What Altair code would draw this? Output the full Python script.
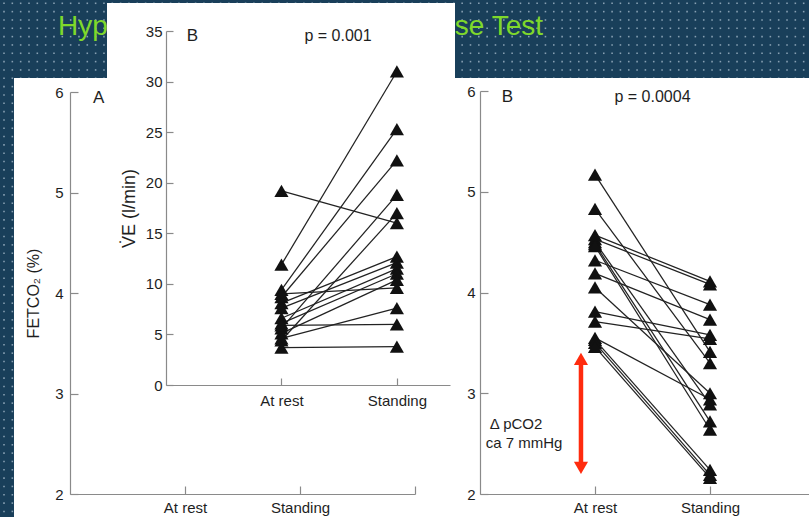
import altair as alt
import numpy as np
import pandas as pd

W, H = 809, 517
FONT = "Liberation Sans"
NAVY = "#193f5a"
GREEN = "#7fd82b"
RED = "#ff2b0e"
AXC = "#8a8a8a"
TXT = "#1e1e1e"

# ---------------- data ----------------
CONDITIONS = ["At rest", "Standing"]
# End-tidal CO2 fraction (%) -- right panel B
FET_REST = [5.17, 4.83, 4.57, 4.53, 4.50, 4.48, 4.46, 4.32, 4.19, 4.05, 3.81, 3.71, 3.55, 3.53, 3.50, 3.46]
FET_STAND = [3.41, 3.30, 4.11, 4.08, 2.89, 2.72, 2.64, 3.88, 3.73, 3.00, 3.58, 3.54, 2.94, 2.24, 2.19, 2.16]
# Minute ventilation (l/min) -- inset panel B
VE_REST = [19.2, 11.9, 9.4, 8.7, 5.6, 4.4, 9.0, 8.1, 7.6, 6.6, 6.1, 5.1, 4.6, 5.9, 3.7]
VE_STAND = [16.0, 31.0, 25.3, 22.2, 18.8, 17.0, 9.6, 12.7, 12.1, 11.5, 11.0, 10.4, 7.6, 6.0, 3.8]
FET_TICKS = [2, 3, 4, 5, 6]
VE_TICKS = [0, 5, 10, 15, 20, 25, 30, 35]
# slide title (its middle is covered by the pasted inset figure)
TITLE_PARTS = ["Hyperventilation", "Orthostatic Response Test"]
P_FET = "p = 0.0004"
P_VE = "p = 0.001"
DELTA_TEXT = ["\u0394 pCO2", "ca 7 mmHg"]


def long(rest, stand):
    rows = []
    for i, (a, b) in enumerate(zip(rest, stand)):
        rows.append({"subj": i, "cond": 1, "val": a})
        rows.append({"subj": i, "cond": 2, "val": b})
    return pd.DataFrame(rows)


fet = long(FET_REST, FET_STAND)
ve = long(VE_REST, VE_STAND)


def S(domain, rng):
    return alt.Scale(domain=domain, range=rng, nice=False, zero=False)


# slide coordinate system (background / panels)
SX = S([0, W], [0, W])
SY = S([0, H], [0, H])
# panel scales
xA, yA = S([0, 3], [70, 415]), S([2, 6], [494, 92])
xB, yB = S([0, 3], [480, 825]), S([2, 6], [494, 91])
xI, yI = S([0, 2.46], [166, 450]), S([0, 35], [385, 31])

LABEL_EXPR = (f"datum.value == 1 ? '{CONDITIONS[0]}' : "
              f"datum.value == 2 ? '{CONDITIONS[1]}' : ''")


def x_main(y_pos, values, pad=6):
    return alt.Axis(orient="bottom", offset=y_pos - H, values=values, labelExpr=LABEL_EXPR,
                    ticks=False, tickSize=0, domainColor=AXC, domainWidth=1.2,
                    labelFont=FONT, labelFontSize=15, labelColor=TXT, labelPadding=pad,
                    labelFlush=False, labelOverlap=False, grid=False, title=None, zindex=1)


def x_ticks(y_pos, values, size=8):
    return alt.Axis(orient="top", offset=-y_pos, values=values, labels=False, domain=False,
                    ticks=True, tickSize=size, tickColor=AXC, tickWidth=1.2,
                    grid=False, title=None, zindex=1)


def y_main(x_pos, values, pad, title=None, tpad=10, tsize=15):
    kw = dict(orient="left", offset=-x_pos, values=values, ticks=False, tickSize=0,
              domainColor=AXC, domainWidth=1.2, labelFont=FONT, labelFontSize=15,
              labelColor=TXT, labelPadding=pad, labelFlush=False, labelOverlap=False,
              grid=False, zindex=1)
    if title:
        kw.update(title=title, titleFont=FONT, titleFontSize=tsize, titleFontWeight="normal",
                  titleColor=TXT, titlePadding=tpad)
    else:
        kw.update(title=None)
    return alt.Axis(**kw)


def y_ticks(x_pos, values, size=8):
    return alt.Axis(orient="right", offset=x_pos - W, values=values, labels=False, domain=False,
                    ticks=True, tickSize=size, tickColor=AXC, tickWidth=1.2,
                    grid=False, title=None, zindex=1)


# ---------------- background ----------------
step = 8.33
gx = np.arange(4.0, W, step)
gy = np.arange(3.3, H, step)
dots = pd.DataFrame([(x, y) for y in gy for x in gx if y < 80 or x < 14], columns=["x", "y"])
dot_layer = alt.Chart(dots).mark_square(size=2.5, color="#a3b8c8", opacity=0.8).encode(
    x=alt.X("x:Q", scale=SX, axis=None), y=alt.Y("y:Q", scale=SY, axis=None))

panels = pd.DataFrame({"name": ["main", "inset"], "x": [14, 107], "x2": [W, 455],
                       "y": [78, 3], "y2": [H, 420]})


def panel_rect(name):
    return alt.Chart(panels[panels.name == name]).mark_rect(color="white").encode(
        x=alt.X("x:Q", scale=SX, axis=None), x2="x2:Q",
        y=alt.Y("y:Q", scale=SY, axis=None), y2="y2:Q")


# title: the parts hidden behind the inset are truncated away (limit) so that only
# the visible characters are drawn; a zero-width space serves as the "ellipsis"
ZW = "\u200b"
title_df = pd.DataFrame({"t": TITLE_PARTS, "x": [58, 543], "y": [35, 35]})
title_left = alt.Chart(title_df.iloc[[0]]).mark_text(
    align="left", baseline="alphabetic", font=FONT, fontSize=28, color=GREEN,
    limit=52, ellipsis=ZW).encode(
    x=alt.X("x:Q", scale=SX, axis=None), y=alt.Y("y:Q", scale=SY, axis=None), text="t:N")
title_right = alt.Chart(title_df.iloc[[1]]).mark_text(
    align="right", baseline="alphabetic", font=FONT, fontSize=28, color=GREEN,
    limit=94, ellipsis=ZW, dir="rtl").encode(
    x=alt.X("x:Q", scale=SX, axis=None), y=alt.Y("y:Q", scale=SY, axis=None), text="t:N")

# ---------------- panel A (empty axes) ----------------
annA = pd.DataFrame({"x": [0.2], "y": [5.94], "t": ["A"]})
panelA = alt.Chart(annA).mark_text(align="left", baseline="middle", font=FONT, fontSize=17,
                                   color=TXT).encode(
    x=alt.X("x:Q", scale=xA, axis=x_main(494, [1, 2, 3])),
    y=alt.Y("y:Q", scale=yA, axis=y_main(70, FET_TICKS, 7, "FETCO\u2082 (%)", 13, 16)),
    text="t:N")
panelA_t = alt.Chart(annA).mark_point(opacity=0).encode(
    x=alt.X("x:Q", scale=xA, axis=x_ticks(494, [1, 2, 3])),
    y=alt.Y("y:Q", scale=yA, axis=y_ticks(70, FET_TICKS)))

# ---------------- panel B (FETCO2) ----------------
B_lines = alt.Chart(fet).mark_line(color="#222222", strokeWidth=1.25).encode(
    x=alt.X("cond:Q", scale=xB, axis=x_main(494, [1, 2])),
    y=alt.Y("val:Q", scale=yB, axis=y_main(480, FET_TICKS, 5)),
    detail="subj:N", order="cond:Q")
B_pts = alt.Chart(fet).mark_point(shape="triangle-up", filled=True, size=200, color="#111111",
                                  opacity=1).encode(
    x=alt.X("cond:Q", scale=xB, axis=x_ticks(494, [1, 2])),
    y=alt.Y("val:Q", scale=yB, axis=y_ticks(480, FET_TICKS)))
annB = pd.DataFrame({"x": [0.19], "y": [5.94], "t": ["B"]})
B_lab = alt.Chart(annB).mark_text(align="left", baseline="middle", font=FONT, fontSize=17,
                                  color=TXT).encode(
    x=alt.X("x:Q", scale=xB, axis=None), y=alt.Y("y:Q", scale=yB, axis=None), text="t:N")
pB = pd.DataFrame({"x": [1.5], "y": [5.94], "t": [P_FET]})
B_p = alt.Chart(pB).mark_text(align="center", baseline="middle", font=FONT, fontSize=16,
                              color=TXT).encode(
    x=alt.X("x:Q", scale=xB, axis=None), y=alt.Y("y:Q", scale=yB, axis=None), text="t:N")

arrow_shaft = pd.DataFrame({"x": [0.878], "y": [3.30], "y2": [2.30]})
B_shaft = alt.Chart(arrow_shaft).mark_rule(color=RED, strokeWidth=4.5).encode(
    x=alt.X("x:Q", scale=xB, axis=None), y=alt.Y("y:Q", scale=yB, axis=None), y2="y2:Q")
arrow_heads = pd.DataFrame({"x": [0.878, 0.878], "y": [3.34, 2.26],
                            "shape": ["triangle-up", "triangle-down"]})
B_heads = alt.Chart(arrow_heads).mark_point(filled=True, size=200, color=RED, opacity=1).encode(
    x=alt.X("x:Q", scale=xB, axis=None), y=alt.Y("y:Q", scale=yB, axis=None),
    shape=alt.Shape("shape:N", scale=None))
delta_df = pd.DataFrame({"x": [0.085, 0.05], "y": [2.69, 2.51], "t": DELTA_TEXT})
B_delta = alt.Chart(delta_df).mark_text(align="left", baseline="middle", font=FONT, fontSize=15,
                                        color=TXT).encode(
    x=alt.X("x:Q", scale=xB, axis=None), y=alt.Y("y:Q", scale=yB, axis=None), text="t:N")

# ---------------- inset (VE) ----------------
I_lines = alt.Chart(ve).mark_line(color="#222222", strokeWidth=1.25).encode(
    x=alt.X("cond:Q", scale=xI, axis=x_main(385, [1, 2], 8)),
    y=alt.Y("val:Q", scale=yI,
            axis=y_main(166, VE_TICKS, 4, "V\u0307E (l/min)", 7, 18)),
    detail="subj:N", order="cond:Q")
I_pts = alt.Chart(ve).mark_point(shape="triangle-up", filled=True, size=200, color="#111111",
                                 opacity=1).encode(
    x=alt.X("cond:Q", scale=xI, axis=x_ticks(385, [1, 2], 7)),
    y=alt.Y("val:Q", scale=yI, axis=y_ticks(166, VE_TICKS, 7)))
annI = pd.DataFrame({"x": [0.18, 1.49], "y": [34.5, 34.5], "t": ["B", P_VE]})
I_lab = alt.Chart(annI.iloc[[0]]).mark_text(align="left", baseline="middle", font=FONT,
                                            fontSize=17, color=TXT).encode(
    x=alt.X("x:Q", scale=xI, axis=None), y=alt.Y("y:Q", scale=yI, axis=None), text="t:N")
I_p = alt.Chart(annI.iloc[[1]]).mark_text(align="center", baseline="middle", font=FONT,
                                          fontSize=16, color=TXT).encode(
    x=alt.X("x:Q", scale=xI, axis=None), y=alt.Y("y:Q", scale=yI, axis=None), text="t:N")

chart = alt.layer(
    dot_layer, panel_rect("main"), title_left, title_right,
    panelA, panelA_t,
    B_lines, B_pts, B_lab, B_p, B_shaft, B_heads, B_delta,
    panel_rect("inset"),
    I_lines, I_pts, I_lab, I_p,
).resolve_scale(x="independent", y="independent", shape="independent").resolve_axis(
    x="independent", y="independent"
).properties(
    width=W, height=H, autosize=alt.AutoSizeParams(type="none"), padding=0, background=NAVY
).configure_view(stroke=None)

chart.save("out.html", embed_options={"renderer": "svg", "actions": False})
